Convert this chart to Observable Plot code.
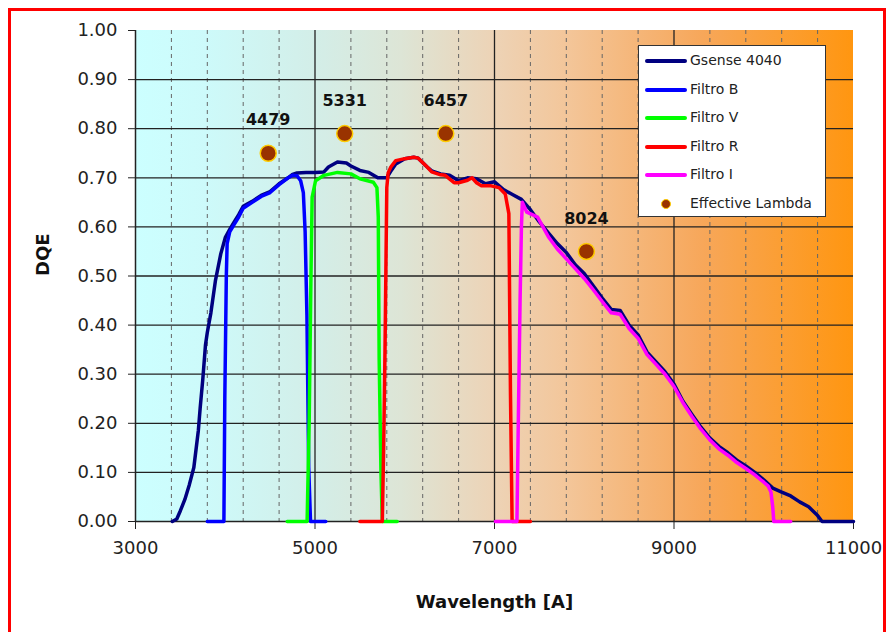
<!DOCTYPE html>
<html><head><meta charset="utf-8">
<script src="https://cdn.jsdelivr.net/npm/d3@7"></script>
<script src="https://cdn.jsdelivr.net/npm/@observablehq/plot@0.6"></script>
<style>
html,body{margin:0;padding:0;overflow:hidden;background:#fff;width:886px;height:632px;}
#chart{position:absolute;left:0;top:0;}
#border{position:absolute;left:8px;top:8px;width:872px;height:700px;border:3px solid #f00;border-bottom:none;pointer-events:none;}
#legend{position:absolute;left:638px;top:45px;width:188px;height:172px;background:#fff;border:1px solid #333;font-family:"DejaVu Sans",sans-serif;font-size:14px;color:#222;box-sizing:border-box;}
.lrow{position:absolute;left:0;width:100%;height:20px;}
.lline{position:absolute;left:6px;top:8px;width:42px;height:4px;border-radius:2px;}
.ldot{position:absolute;left:22px;top:5px;width:8px;height:8px;border-radius:50%;background:#993300;border:1px solid #ffcc00;}
.ltxt{position:absolute;left:51px;top:1px;white-space:nowrap;}
</style>
</head><body>
<div id="chart"></div>
<div id="legend"></div>
<div id="border"></div>
<script>
// ---- data ----
const gsenseL = [3410,3460,3500,3550,3600,3650,3700,3720,3750,3780,3800,3840,3890,3950,4000,4050,4100,4150,4200,4300,4400,4500,4600,4700,4750,4800,4900,5000,5100,5150,5250,5350,5400,5500,5600,5700,5800,5850,5900,6000,6100,6150,6250,6300,6400,6500,6600,6700,6800,6900,7000,7100,7200,7300,7400,7500,7600,7700,7800,7900,8000,8100,8200,8300,8400,8500,8600,8700,8800,8900,9000,9100,9200,9300,9400,9500,9600,9700,9800,9900,10000,10100,10200,10300,10400,10500,10600,10650,11000];
const gsenseV = [0,0.005,0.022,0.045,0.075,0.11,0.185,0.23,0.29,0.36,0.385,0.425,0.49,0.545,0.578,0.595,0.61,0.625,0.642,0.652,0.664,0.672,0.688,0.70,0.707,0.71,0.711,0.711,0.712,0.722,0.732,0.73,0.724,0.715,0.711,0.70,0.70,0.715,0.728,0.739,0.742,0.74,0.722,0.714,0.708,0.705,0.694,0.70,0.698,0.688,0.692,0.676,0.666,0.656,0.635,0.61,0.588,0.566,0.548,0.523,0.505,0.48,0.455,0.432,0.43,0.40,0.38,0.345,0.325,0.305,0.28,0.245,0.218,0.192,0.17,0.153,0.14,0.125,0.113,0.10,0.085,0.068,0.06,0.052,0.04,0.03,0.012,0,0];

const filtroBL = [3800,3985,3995,4012,4021,4050,4100,4150,4200,4300,4400,4500,4600,4700,4750,4800,4840,4870,4890,4910,4930,4950,5120];
const filtroBV = [0,0,0.25,0.5,0.566,0.59,0.605,0.62,0.638,0.65,0.662,0.67,0.686,0.70,0.705,0.704,0.694,0.67,0.59,0.42,0.11,0,0];

const filtroVL = [4690,4912,4935,4955,4968,5006,5100,5250,5400,5500,5650,5690,5705,5715,5735,5750,5916];
const filtroVV = [0,0,0.2,0.5,0.66,0.694,0.705,0.711,0.708,0.698,0.691,0.68,0.62,0.33,0.1,0,0];

const filtroRL = [5500,5750,5765,5780,5800,5815,5845,5900,6000,6100,6150,6250,6300,6400,6450,6550,6600,6700,6750,6800,6850,6950,7050,7120,7160,7178,7196,7400];
const filtroRV = [0,0,0.15,0.35,0.68,0.71,0.722,0.735,0.739,0.742,0.74,0.722,0.712,0.706,0.705,0.69,0.69,0.695,0.70,0.69,0.684,0.684,0.68,0.667,0.627,0.26,0,0];

const filtroIL = [7010,7250,7265,7285,7300,7310,7360,7480,7600,7700,7800,7900,8000,8100,8200,8300,8400,8500,8600,8700,8800,8900,9000,9100,9200,9300,9400,9500,9600,9700,9800,9900,10000,10050,10080,10100,10112,10300];
const filtroIV = [0,0,0.2,0.45,0.6,0.65,0.63,0.62,0.58,0.555,0.535,0.515,0.495,0.472,0.448,0.425,0.422,0.393,0.373,0.34,0.32,0.3,0.275,0.242,0.214,0.188,0.166,0.148,0.135,0.12,0.108,0.095,0.08,0.072,0.06,0.03,0,0];

const effL = [4479,5331,6457,8024];
const effV = [0.75,0.79,0.79,0.55];
const effLabels = ["4479","5331","6457","8024"];

const seriesNames = ["Gsense 4040","Filtro B","Filtro V","Filtro R","Filtro I"];
const seriesColors = ["#000080","#0000ff","#00ff00","#ff0000","#ff00ff"];

const xTicks = [3000,5000,7000,9000,11000];
const xMajor = [5000,7000,9000];
const xMinor = [3400,3800,4200,4600,5400,5800,6200,6600,7400,7800,8200,8600,9400,9800,10200,10600];
const yTicks = [0,0.1,0.2,0.3,0.4,0.5,0.6,0.7,0.8,0.9,1.0];
const yGrid = [0.1,0.2,0.3,0.4,0.5,0.6,0.7,0.8,0.9];

// ---- build ----
const toRows = (L,V) => L.map((l,i)=>({l, v:V[i]}));
const series = [
  toRows(gsenseL,gsenseV), toRows(filtroBL,filtroBV), toRows(filtroVL,filtroVV),
  toRows(filtroRL,filtroRV), toRows(filtroIL,filtroIV)
];
const eff = effL.map((l,i)=>({l, v:effV[i], t:effLabels[i]}));

function background(index, scales, values, dims) {
  const g = d3.create("svg:g");
  const grad = g.append("defs").append("linearGradient").attr("id","bgGrad")
    .attr("x1","0").attr("x2","1").attr("y1","0").attr("y2","0");
  [[0,"#ccffff"],[0.1,"#cdfafa"],[0.25,"#d3eee8"],[0.37,"#dde5d6"],[0.5,"#edd3b6"],
   [0.6,"#f3c69a"],[0.79,"#f7a75a"],[1,"#ff9610"]].forEach(([o,c]) =>
    grad.append("stop").attr("offset",o).attr("stop-color",c));
  g.append("rect")
    .attr("x",dims.marginLeft).attr("y",dims.marginTop)
    .attr("width",dims.width-dims.marginLeft-dims.marginRight)
    .attr("height",dims.height-dims.marginTop-dims.marginBottom)
    .attr("fill","url(#bgGrad)");
  return g.node();
}

const chart = Plot.plot({
  width:886, height:632,
  marginLeft:135, marginRight:33, marginTop:30, marginBottom:111,
  style:{fontFamily:"DejaVu Sans, sans-serif", fontSize:"18px", color:"#222", background:"transparent", overflow:"visible"},
  x:{domain:[3000,11000]},
  y:{domain:[0,1]},
  marks:[
    background,
    Plot.ruleX(xMinor,{stroke:"#666",strokeDasharray:"4,4",strokeWidth:1}),
    Plot.ruleX(xMajor,{stroke:"#222",strokeWidth:1.3}),
    Plot.ruleY(yGrid,{stroke:"#222",strokeWidth:1.3}),
    Plot.ruleY([0],{stroke:"#222",strokeWidth:1.5}),
    Plot.ruleX([3000],{stroke:"#222",strokeWidth:1.5}),
    Plot.axisY({ticks:yTicks, tickFormat:d3.format(".2f"), tickSize:7, tickPadding:11, label:null, stroke:"#222"}),
    Plot.axisX({ticks:xTicks, tickFormat:d=>String(d), tickSize:8, tickPadding:12, label:null, stroke:"#222"}),
    ...series.map((s,i)=>Plot.line(s,{x:"l",y:"v",stroke:seriesColors[i],strokeWidth:3.5,strokeLinejoin:"round",strokeLinecap:"round"})),
    Plot.dot(eff,{x:"l",y:"v",r:8,fill:"#993300",stroke:"#ffcc00",strokeWidth:1.5}),
    Plot.text(eff,{x:"l",y:"v",text:"t",dy:-33,fontWeight:"bold",fontSize:16,fill:"#111"}),
    Plot.text(["Wavelength [A]"],{frameAnchor:"bottom",dy:86,fontWeight:"bold",fontSize:18,fill:"#111"}),
    Plot.text(["DQE"],{frameAnchor:"left",dx:-92,rotate:-90,fontWeight:"bold",fontSize:18,fill:"#111"})
  ]
});
document.getElementById("chart").appendChild(chart);

// legend (HTML overlay)
const leg = document.getElementById("legend");
const legendItems = seriesNames.map((n,i)=>({n, c:seriesColors[i]})).concat([{n:"Effective Lambda", dot:true}]);
legendItems.forEach((it,i)=>{
  const row = document.createElement("div");
  row.className="lrow";
  row.style.top = (5 + i*28.6) + "px";
  const mark = document.createElement("div");
  if (it.dot) { mark.className="ldot"; } else { mark.className="lline"; mark.style.background=it.c; }
  const t = document.createElement("div");
  t.className="ltxt"; t.textContent=it.n;
  row.appendChild(mark); row.appendChild(t);
  leg.appendChild(row);
});
</script>
</body></html>
